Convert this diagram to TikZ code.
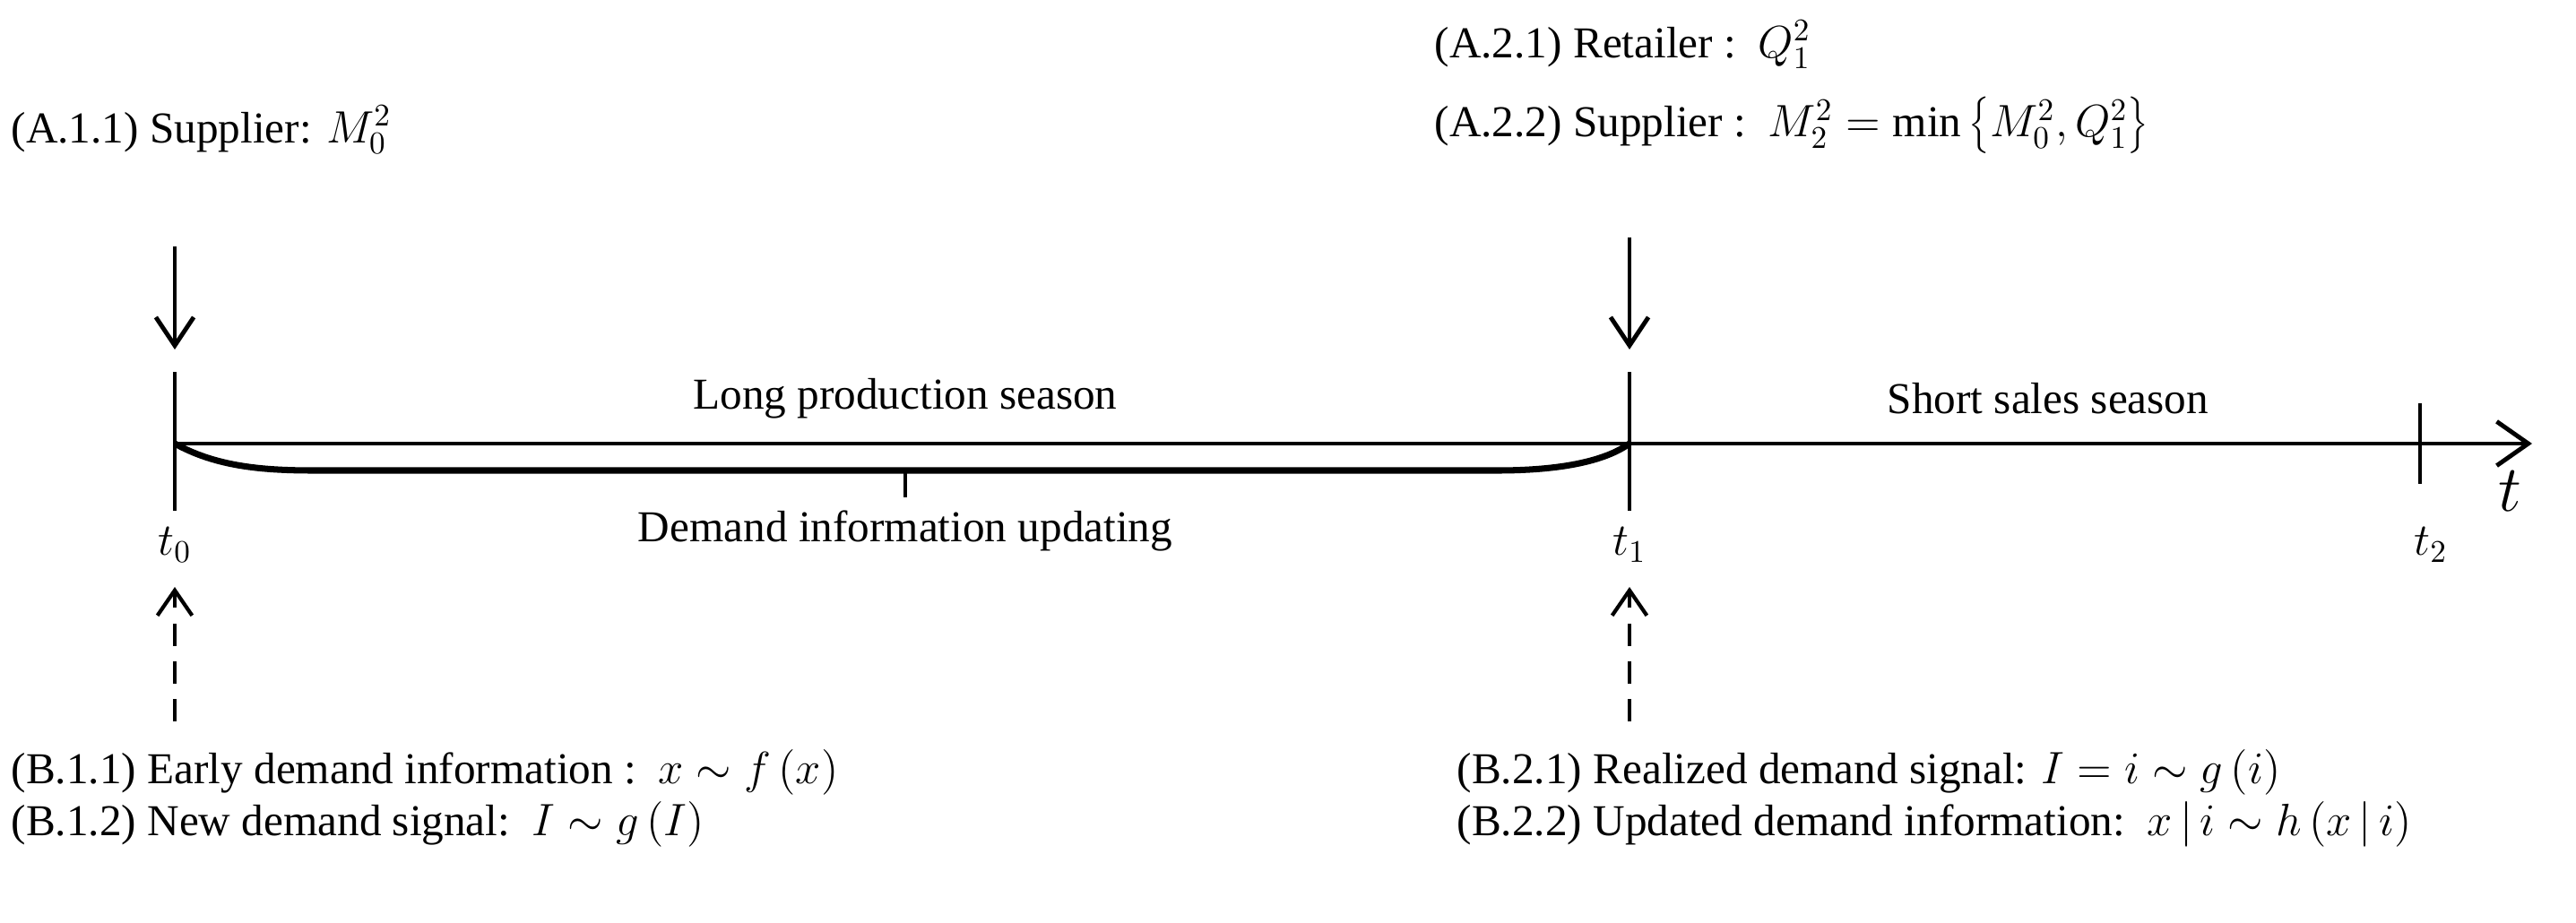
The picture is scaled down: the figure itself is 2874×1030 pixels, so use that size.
\documentclass[tikz,border=0pt]{standalone}
\usepackage{fontspec}
\setmainfont{Liberation Serif}
\usetikzlibrary{arrows.meta}
\begin{document}
\begin{tikzpicture}[x=0.01cm,y=-0.01cm,
  lbl/.style={anchor=west,inner sep=0pt,font=\fontsize{14}{16}\selectfont},
  ctr/.style={inner sep=0pt,font=\fontsize{14}{16}\selectfont},
  ax/.style={line width=1.4pt},
  evt/.style={line width=1.4pt,-{Straight Barb[length=9pt,width=12pt]}},
  sig/.style={line width=1.2pt,dashed,dash pattern=on 7pt off 5pt,-{Straight Barb[length=8pt,width=11pt]}}]
\useasboundingbox (0,0) rectangle (2874,1030);
\coordinate (s) at (195,495);
\coordinate (m) at (1818,495);
\coordinate (e) at (2825,495);
\draw[ax,-{Straight Barb[length=10pt,width=14pt]}] (s) -- (e);
\draw[ax] (195,415) -- (195,570);
\draw[ax] (1818,415) -- (1818,570);
\draw[ax] (2700,450) -- (2700,540);
\draw[line width=2pt] (s) .. controls (240,520) and (290,525) .. (350,525) -- (1670,525) .. controls (1740,525) and (1790,515) .. (m);
\draw[line width=1pt] (1010,525) -- (1010,555);
\node[ctr] (lp) at (1010,445) {Long production season};
\node[ctr] (ss) at (2285,445) {Short sales season};
\node[ctr] (du) at (1010,592) {Demand information updating};
\node[ctr] (t0) at (195,608) {$t_0$};
\node[ctr] (t1) at (1818,608) {$t_1$};
\node[ctr] (t2) at (2712,608) {$t_2$};
\node[inner sep=0pt,font=\fontsize{22}{24}\selectfont] (t) at (2800,548) {$t$};
\node[lbl] (a11) at (12,145) {(A.1.1) Supplier: $M_0^2$};
\node[lbl] (a21) at (1600,50) {(A.2.1) Retailer :\ \ $Q_1^2$};
\node[lbl] (a22) at (1600,140) {(A.2.2) Supplier :\ \ $M_2^2=\min\left\{M_0^2,Q_1^2\right\}$};
\node[lbl] (b11) at (12,862) {(B.1.1) Early demand information :\ \ $x\sim f\left(x\right)$};
\node[lbl] (b12) at (12,920) {(B.1.2) New demand signal:\ \ $I\sim g\left(I\right)$};
\node[lbl] (b21) at (1625,862) {(B.2.1) Realized demand signal: $I=i\sim g\left(i\right)$};
\node[lbl] (b22) at (1625,920) {(B.2.2) Updated demand information:\ \ $x\,|\,i\sim h\left(x\,|\,i\right)$};
\coordinate (d0a) at (195,275); \coordinate (d0b) at (195,390);
\coordinate (d1a) at (1818,265); \coordinate (d1b) at (1818,390);
\draw[evt] (d0a) -- (d0b);
\draw[evt] (d1a) -- (d1b);
\coordinate (u0a) at (195,805); \coordinate (u0b) at (195,655);
\coordinate (u1a) at (1818,805); \coordinate (u1b) at (1818,655);
\draw[sig] (u0a) -- (u0b);
\draw[sig] (u1a) -- (u1b);
\end{tikzpicture}
\end{document}
